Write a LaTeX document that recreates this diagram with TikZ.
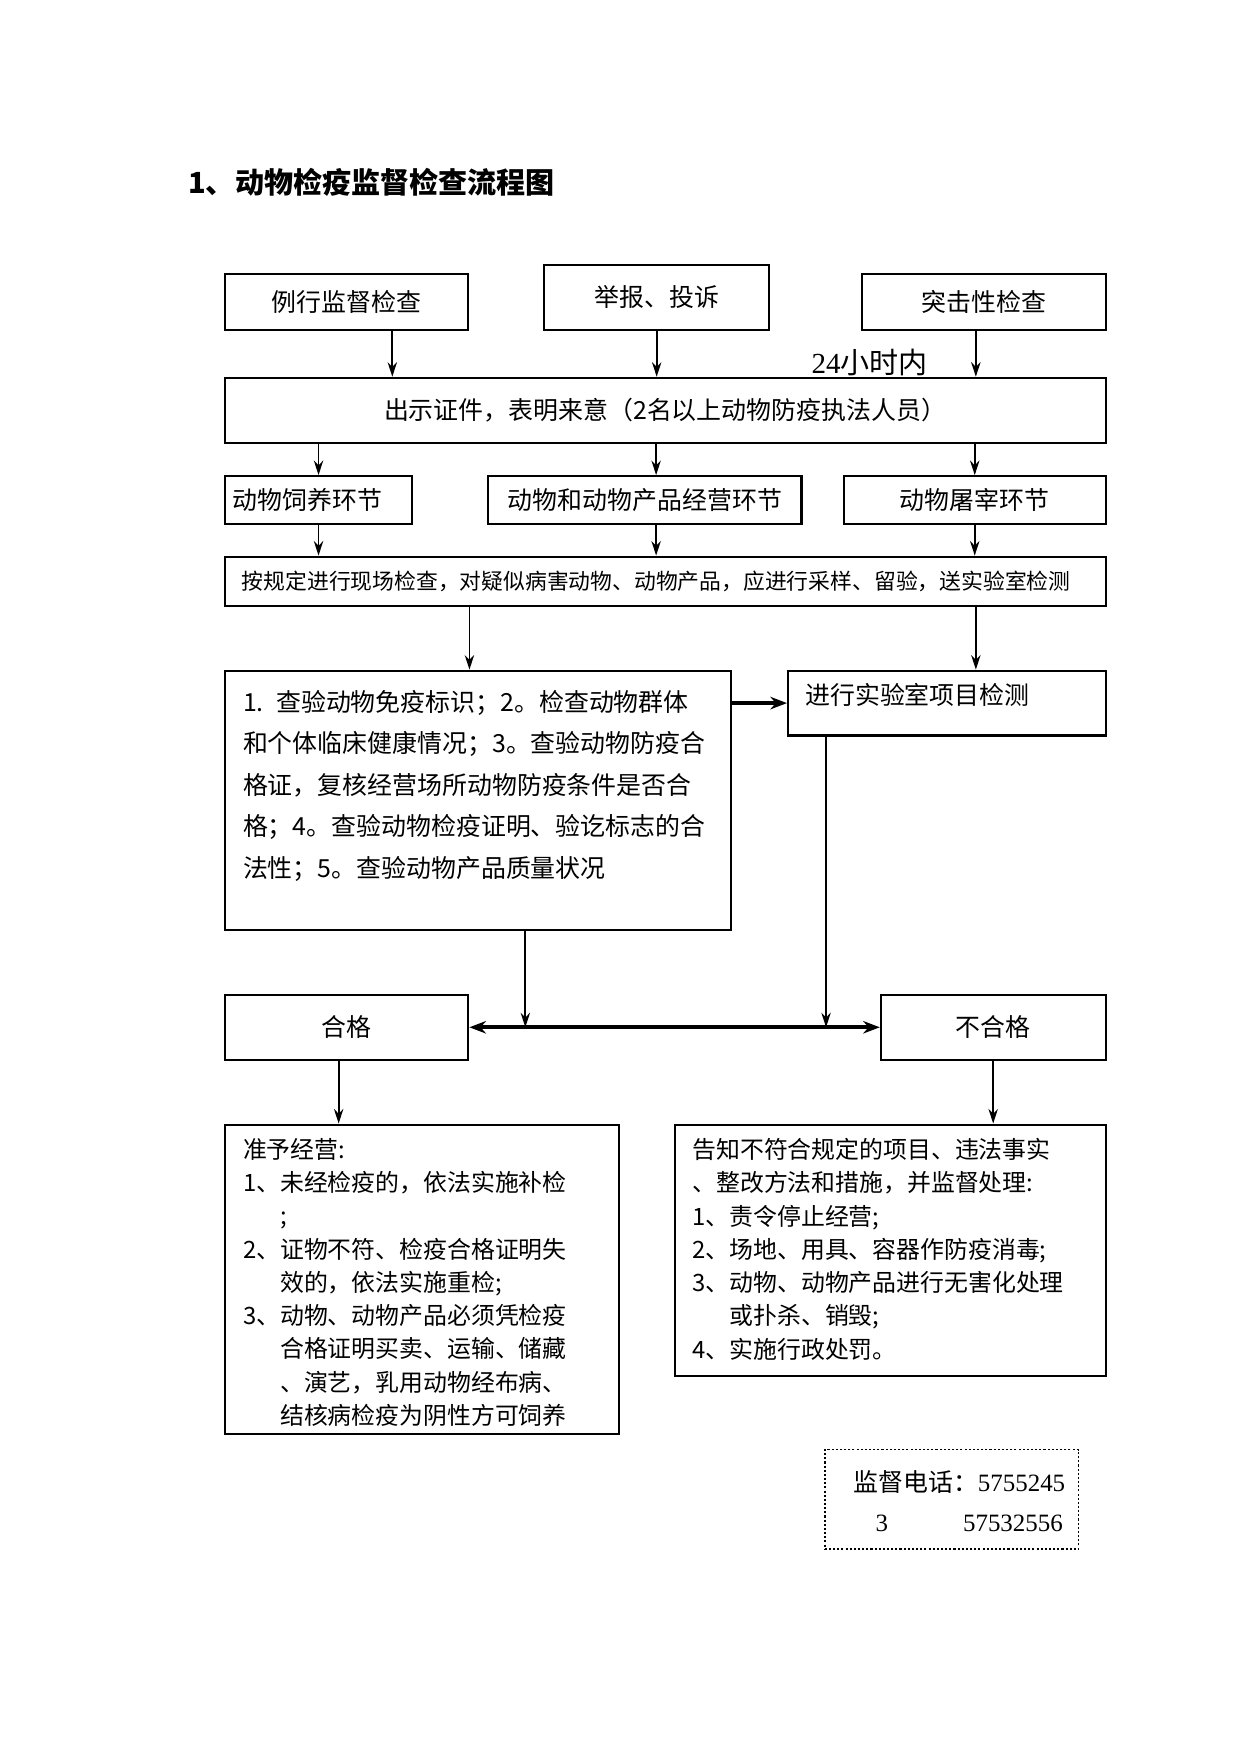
\documentclass[tikz,border=0pt]{standalone}
\usepackage{fontspec}
\setmainfont{Liberation Serif}
\newfontfamily\cjk{Noto Sans CJK SC}
\usetikzlibrary{arrows.meta}
\newlength\pxu
\setlength\pxu{0.01892cm}

\tikzset{
    box/.style={draw, line width=1pt, inner sep=0pt, anchor=north west,
        font=\cjk\fontsize{12pt}{14pt}\selectfont},
    txt/.style={inner sep=0pt, align=left, font=\cjk\fontsize{12pt}{20pt}\selectfont},
    small/.style={inner sep=0pt, align=left, font=\cjk\fontsize{11.5pt}{16pt}\selectfont},
    arr/.style={-{Stealth[length=7pt,width=4.5pt]}, line width=0.9pt},
    fatarr/.style={-{Stealth[length=8pt,width=6pt]}, line width=1.9pt},
    dblarr/.style={{Stealth[length=8pt,width=6pt]}-{Stealth[length=8pt,width=6pt]}, line width=1.9pt}
}

\begin{document}
\begin{tikzpicture}[x=0.01892cm, y=-0.01892cm]
    \useasboundingbox (0,0) rectangle (1110,1569);
    \node[anchor=west, inner sep=0pt, font=\cjk\bfseries\fontsize{14pt}{16pt}\selectfont] (title) at (168,163) {1、动物检疫监督检查流程图};

    \node[box, minimum width=218*\pxu, minimum height=50*\pxu] (top1) at (200,244) {例行监督检查};
    \node[box, minimum width=201*\pxu, minimum height=58*\pxu] (top2) at (486,236) {举报、投诉};
    \node[box, minimum width=218*\pxu, minimum height=50*\pxu] (top3) at (770,244) {突击性检查};
    \node[inner sep=0pt, font=\fontsize{14pt}{16pt}\selectfont] (hours) at (778,324) {24{\cjk 小时内}};
    \node[box, minimum width=788*\pxu, minimum height=58*\pxu] (show) at (200,337) {出示证件，表明来意（2名以上动物防疫执法人员）};

    \node[box, minimum width=168*\pxu, minimum height=43*\pxu,
        label={[txt, anchor=west, xshift=8*\pxu]west:{动物饲养环节}}] (feed) at (200,425) {};
    \node[box, minimum width=280*\pxu, minimum height=43*\pxu] (trade) at (436,425) {动物和动物产品经营环节};
    \node[box, minimum width=234*\pxu, minimum height=43*\pxu] (slaughter) at (754,425) {动物屠宰环节};

    \node[box, minimum width=788*\pxu, minimum height=44*\pxu,
        label={[inner sep=0pt, anchor=west, xshift=16*\pxu, font=\cjk\fontsize{10.5pt}{12pt}\selectfont]west:{按规定进行现场检查，对疑似病害动物、动物产品，应进行采样、留验，送实验室检测}}] (site) at (200,497) {};

    \node[box, minimum width=453*\pxu, minimum height=232*\pxu,
        label={[txt, text width=440*\pxu, anchor=north west, xshift=17*\pxu, yshift=-18*\pxu]north west:{1. 查验动物免疫标识；2。检查动物群体\\和个体临床健康情况；3。查验动物防疫合\\格证，复核经营场所动物防疫条件是否合\\格；4。查验动物检疫证明、验讫标志的合\\法性；5。查验动物产品质量状况}}] (items) at (200,599) {};
    \node[box, minimum width=284*\pxu, minimum height=58*\pxu,
        label={[txt, anchor=north west, xshift=16*\pxu, yshift=-12*\pxu]north west:{进行实验室项目检测}}] (lab) at (704,599) {};

    \node[box, minimum width=218*\pxu, minimum height=58*\pxu] (pass) at (200,889) {合格};
    \node[box, minimum width=201*\pxu, minimum height=58*\pxu] (fail) at (787,889) {不合格};

    \node[box, minimum width=353*\pxu, minimum height=277*\pxu,
        label={[small, text width=340*\pxu, anchor=north west, xshift=17*\pxu, yshift=-13*\pxu]north west:{准予经营:\\1、未经检疫的，依法实施补检\\\phantom{1、};\\2、证物不符、检疫合格证明失\\\phantom{1、}效的，依法实施重检;\\3、动物、动物产品必须凭检疫\\\phantom{1、}合格证明买卖、运输、储藏\\\phantom{1、}、演艺，乳用动物经布病、\\\phantom{1、}结核病检疫为阴性方可饲养}}] (passact) at (200,1005) {};
    \node[box, minimum width=385*\pxu, minimum height=225*\pxu,
        label={[small, text width=370*\pxu, anchor=north west, xshift=16*\pxu, yshift=-13*\pxu]north west:{告知不符合规定的项目、违法事实\\、整改方法和措施，并监督处理:\\1、责令停止经营;\\2、场地、用具、容器作防疫消毒;\\3、动物、动物产品进行无害化处理\\\phantom{1、}或扑杀、销毁;\\4、实施行政处罚。}}] (failact) at (603,1005) {};

    \node[box, dash pattern=on 1pt off 1pt, line width=0.8pt, minimum width=227*\pxu, minimum height=89*\pxu,
        label={[inner sep=0pt, align=left, text width=200*\pxu, anchor=north west, xshift=26*\pxu, yshift=-19*\pxu, font=\fontsize{12pt}{19.3pt}\selectfont]north west:{{\cjk 监督电话：}5755245\\\hspace*{20\pxu}3\hspace{67\pxu}57532556}}] (phone) at (737,1296) {};

    \draw[arr] ([xshift=41*\pxu]top1.south) -- ([xshift=41*\pxu]top1.south |- show.north);
    \draw[arr] (top2.south) -- (top2.south |- show.north);
    \draw[arr] ([xshift=-7*\pxu]top3.south) -- ([xshift=-7*\pxu]top3.south |- show.north);

    \draw[arr] (feed.north |- show.south) -- (feed.north);
    \draw[arr] ([xshift=10*\pxu]trade.north |- show.south) -- ([xshift=10*\pxu]trade.north);
    \draw[arr] (slaughter.north |- show.south) -- (slaughter.north);

    \draw[arr] (feed.south) -- (feed.south |- site.north);
    \draw[arr] ([xshift=10*\pxu]trade.south) -- ([xshift=10*\pxu]trade.south |- site.north);
    \draw[arr] (slaughter.south) -- (slaughter.south |- site.north);

    \draw[arr] ([xshift=-7.5*\pxu]items.north |- site.south) -- ([xshift=-7.5*\pxu]items.north);
    \draw[arr] ([xshift=26*\pxu]lab.north |- site.south) -- ([xshift=26*\pxu]lab.north);
    \draw[fatarr] (items.east |- lab.west) -- (lab.west);

    \draw[dblarr] (pass.east) -- (fail.west);
    \draw[arr] ([xshift=42.5*\pxu]items.south) -- ([xshift=42.5*\pxu]items.south |- pass.east);
    \draw[arr] ([xshift=-108*\pxu]lab.south) -- ([xshift=-108*\pxu]lab.south |- pass.east);

    \draw[arr] ([xshift=-7*\pxu]pass.south) -- ([xshift=-7*\pxu]pass.south |- passact.north);
    \draw[arr] (fail.south) -- (fail.south |- failact.north);
\end{tikzpicture}
\end{document}
